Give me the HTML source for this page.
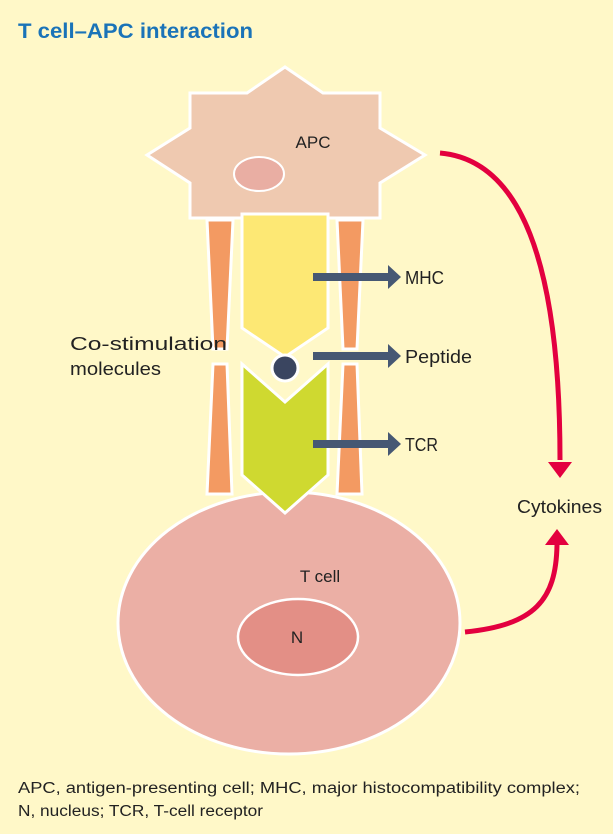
<!DOCTYPE html>
<html><head><meta charset="utf-8"><style>
html,body{margin:0;padding:0;background:#fff8c8;}
svg{display:block;font-family:"Liberation Sans",sans-serif;}
</style></head><body>
<svg width="613" height="834" viewBox="0 0 613 834">
<rect width="613" height="834" fill="#fff8c8"/>
<text x="18" y="38" font-size="21" font-weight="bold" fill="#1a73b8" textLength="235" lengthAdjust="spacingAndGlyphs">T cell–APC interaction</text>
<polygon points="285,67 323,93 380,93 380,128 425,155 380,183 380,218 190,218 190,183 147,155 190,128 190,93 247,93" fill="#efc9b0" stroke="#fff" stroke-width="3" stroke-linejoin="miter"/>
<ellipse cx="259" cy="174" rx="25" ry="17" fill="#e9aea3" stroke="#fff" stroke-width="2"/>
<text x="313" y="148" font-size="17" fill="#222" text-anchor="middle">APC</text>
<ellipse cx="289" cy="623" rx="171" ry="131" fill="#ebafa5" stroke="#fff" stroke-width="3"/>
<ellipse cx="298" cy="637" rx="60" ry="38" fill="#e38f86" stroke="#fff" stroke-width="2.5"/>
<text x="320" y="582" font-size="17" fill="#222" text-anchor="middle">T cell</text>
<text x="297" y="643" font-size="17" fill="#222" text-anchor="middle">N</text>
<polygon points="207,220 233,220 227,349 213,349" fill="#f39a62" stroke="#fff" stroke-width="3"/>
<polygon points="213,364 227,364 232,494 207,494" fill="#f39a62" stroke="#fff" stroke-width="3"/>
<polygon points="337,220 363,220 357,349 343,349" fill="#f39a62" stroke="#fff" stroke-width="3"/>
<polygon points="343,364 357,364 362,494 337,494" fill="#f39a62" stroke="#fff" stroke-width="3"/>
<polygon points="242,214 328,214 328,328 285,357 242,328" fill="#fde874" stroke="#fff" stroke-width="3"/>
<polygon points="242,364 285,402 328,364 328,475 285,513 242,475" fill="#cfd930" stroke="#fff" stroke-width="3"/>
<circle cx="285" cy="368" r="13" fill="#3a4560" stroke="#fff" stroke-width="3"/>
<g fill="#465873">
<g><rect x="313" y="273" width="77" height="8"/><polygon points="388,265 401,277 388,289"/></g>
<g><rect x="313" y="352" width="77" height="8"/><polygon points="388,344 401,356 388,368"/></g>
<g><rect x="313" y="440" width="77" height="8"/><polygon points="388,432 401,444 388,456"/></g>
</g>
<text x="405" y="284" font-size="18" fill="#222" textLength="39" lengthAdjust="spacingAndGlyphs">MHC</text>
<text x="405" y="363" font-size="18" fill="#222" textLength="67" lengthAdjust="spacingAndGlyphs">Peptide</text>
<text x="405" y="451" font-size="18" fill="#222" textLength="33" lengthAdjust="spacingAndGlyphs">TCR</text>
<text x="70" y="350" font-size="18" fill="#222" textLength="157" lengthAdjust="spacingAndGlyphs">Co-stimulation</text>
<text x="70" y="375" font-size="18" fill="#222" textLength="91" lengthAdjust="spacingAndGlyphs">molecules</text>
<path d="M440,153 C520,160 560,260 560,460" fill="none" stroke="#e3003f" stroke-width="5"/>
<polygon points="548,462 572,462 560,478" fill="#e3003f"/>
<path d="M465,632 C535,625 556,600 557,545" fill="none" stroke="#e3003f" stroke-width="5"/>
<polygon points="545,545 569,545 557,529" fill="#e3003f"/>
<text x="517" y="513" font-size="18" fill="#222" textLength="85" lengthAdjust="spacingAndGlyphs">Cytokines</text>
<text x="18" y="793" font-size="15.5" fill="#222" textLength="562" lengthAdjust="spacingAndGlyphs">APC, antigen-presenting cell; MHC, major histocompatibility complex;</text>
<text x="18" y="816" font-size="15.5" fill="#222" textLength="245" lengthAdjust="spacingAndGlyphs">N, nucleus; TCR, T-cell receptor</text>
</svg>
</body></html>
